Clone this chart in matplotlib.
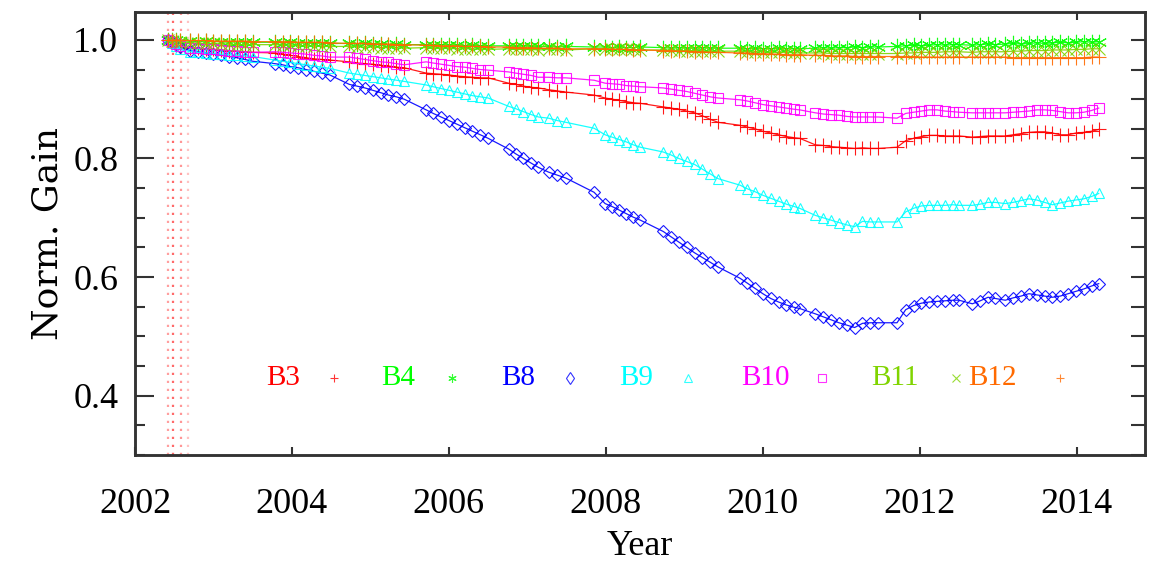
import matplotlib
matplotlib.use("Agg")
import matplotlib.pyplot as plt
from matplotlib.ticker import MultipleLocator

# ---------------- data ----------------
years = [
    2002.42, 2002.47, 2002.52, 2002.57,
    2002.70, 2002.80, 2002.90, 2003.00, 2003.10, 2003.20, 2003.30, 2003.40, 2003.50,
    2003.78, 2003.88, 2003.98, 2004.08, 2004.18, 2004.28, 2004.38, 2004.48,
    2004.73, 2004.83, 2004.93, 2005.03, 2005.13, 2005.23, 2005.33, 2005.43,
    2005.71, 2005.80, 2005.90, 2006.00, 2006.10, 2006.20, 2006.30, 2006.40, 2006.50,
    2006.76, 2006.85, 2006.95, 2007.05, 2007.14,
    2007.27, 2007.38, 2007.49,
    2007.85,
    2007.99, 2008.08, 2008.17, 2008.26, 2008.35, 2008.44,
    2008.73, 2008.83, 2008.93, 2009.03, 2009.13, 2009.23, 2009.33, 2009.43,
    2009.71, 2009.80, 2009.90, 2010.00, 2010.10, 2010.20, 2010.30, 2010.40, 2010.47,
    2010.67, 2010.77, 2010.87, 2010.97, 2011.07, 2011.17, 2011.27, 2011.37, 2011.47,
    2011.71, 2011.82, 2011.92, 2012.02, 2012.12, 2012.22, 2012.32, 2012.42, 2012.50,
    2012.67, 2012.77, 2012.87, 2012.96,
    2013.09, 2013.19, 2013.29, 2013.39, 2013.49, 2013.59, 2013.69, 2013.79, 2013.89,
    2013.99, 2014.09, 2014.19, 2014.28,
]

b3 = [
    1.000, 0.996, 0.992, 0.988,
    0.987, 0.986, 0.985, 0.984, 0.983, 0.982, 0.981, 0.980, 0.979,
    0.978, 0.976, 0.974, 0.972, 0.970, 0.968, 0.967, 0.966,
    0.963, 0.961, 0.960, 0.959, 0.957, 0.956, 0.954, 0.953,
    0.944, 0.943, 0.942, 0.941, 0.939, 0.938, 0.937, 0.936, 0.936,
    0.927, 0.925, 0.922, 0.920, 0.919,
    0.916, 0.914, 0.912,
    0.907,
    0.902, 0.900, 0.898, 0.896, 0.894, 0.893,
    0.887, 0.885, 0.883, 0.880, 0.877, 0.872, 0.866, 0.861,
    0.856, 0.853, 0.850, 0.846, 0.843, 0.840, 0.837, 0.835, 0.834,
    0.823, 0.822, 0.820, 0.819, 0.818, 0.817, 0.818, 0.817, 0.817,
    0.819, 0.830, 0.834, 0.837, 0.839, 0.839, 0.838, 0.838, 0.838,
    0.836, 0.837, 0.838, 0.838,
    0.838, 0.840, 0.842, 0.844, 0.845, 0.845, 0.843, 0.840, 0.840,
    0.843, 0.844, 0.846, 0.849,
]

b4 = [
    1.000, 0.999, 0.999, 0.998,
    0.998, 0.997, 0.998, 0.997, 0.997, 0.996, 0.997, 0.996, 0.996,
    0.996, 0.995, 0.996, 0.995, 0.995, 0.994, 0.995, 0.994,
    0.994, 0.993, 0.994, 0.993, 0.993, 0.992, 0.993, 0.992,
    0.992, 0.991, 0.992, 0.991, 0.991, 0.990, 0.991, 0.990, 0.990,
    0.990, 0.989, 0.990, 0.989, 0.989,
    0.989, 0.988, 0.989,
    0.988,
    0.988, 0.987, 0.988, 0.987, 0.987, 0.988,
    0.987, 0.986, 0.987, 0.986, 0.986, 0.987, 0.986, 0.986,
    0.986, 0.985, 0.986, 0.985, 0.985, 0.986, 0.985, 0.985, 0.985,
    0.986, 0.987, 0.986, 0.987, 0.987, 0.988, 0.987, 0.988, 0.988,
    0.989, 0.990, 0.991, 0.990, 0.991, 0.992, 0.991, 0.992, 0.992,
    0.991, 0.992, 0.993, 0.992,
    0.993, 0.994, 0.993, 0.994, 0.995, 0.994, 0.995, 0.996, 0.995,
    0.996, 0.997, 0.996, 0.997,
]

b8 = [
    1.000, 0.997, 0.992, 0.988,
    0.982, 0.980, 0.978, 0.976, 0.974, 0.972, 0.970, 0.967, 0.964,
    0.960, 0.958, 0.955, 0.953, 0.950, 0.947, 0.944, 0.941,
    0.925, 0.922, 0.919, 0.915, 0.911, 0.907, 0.904, 0.900,
    0.882, 0.876, 0.870, 0.864, 0.858, 0.852, 0.846, 0.840, 0.834,
    0.816, 0.808, 0.800, 0.792, 0.785,
    0.777, 0.772, 0.767,
    0.743,
    0.724, 0.719, 0.713, 0.707, 0.701, 0.696,
    0.677, 0.668, 0.659, 0.650, 0.641, 0.633, 0.625, 0.617,
    0.598, 0.590, 0.581, 0.572, 0.564, 0.558, 0.553, 0.549, 0.547,
    0.538, 0.533, 0.528, 0.523, 0.519, 0.515, 0.522, 0.523, 0.523,
    0.523, 0.545, 0.552, 0.556, 0.558, 0.559, 0.560, 0.561, 0.561,
    0.555, 0.560, 0.566, 0.564,
    0.561, 0.565, 0.568, 0.572, 0.570, 0.568, 0.566, 0.568, 0.572,
    0.576, 0.580, 0.585, 0.589,
]

b9 = [
    1.000, 0.995, 0.990, 0.985,
    0.980, 0.979, 0.978, 0.977, 0.976, 0.975, 0.974, 0.973, 0.972,
    0.966, 0.964, 0.962, 0.960, 0.958, 0.956, 0.954, 0.952,
    0.944, 0.942, 0.940, 0.938, 0.936, 0.934, 0.932, 0.930,
    0.924, 0.921, 0.918, 0.915, 0.912, 0.909, 0.906, 0.904, 0.902,
    0.888, 0.884, 0.879, 0.874, 0.870,
    0.868, 0.864, 0.861,
    0.851,
    0.840, 0.836, 0.832, 0.828, 0.823, 0.819,
    0.811, 0.806, 0.800, 0.795, 0.790, 0.782, 0.774, 0.766,
    0.755, 0.749, 0.744, 0.738, 0.733, 0.728, 0.723, 0.719, 0.716,
    0.704, 0.700, 0.696, 0.692, 0.688, 0.685, 0.694, 0.693, 0.693,
    0.693, 0.710, 0.716, 0.720, 0.721, 0.721, 0.721, 0.722, 0.721,
    0.721, 0.723, 0.726, 0.726,
    0.724, 0.726, 0.729, 0.732, 0.730, 0.726, 0.722, 0.725, 0.728,
    0.730, 0.732, 0.736, 0.741,
]

b10 = [
    1.000, 0.997, 0.993, 0.990,
    0.987, 0.986, 0.985, 0.984, 0.983, 0.982, 0.981, 0.980, 0.979,
    0.980, 0.979, 0.978, 0.977, 0.976, 0.974, 0.973, 0.971,
    0.971, 0.969, 0.967, 0.965, 0.963, 0.962, 0.960, 0.958,
    0.963, 0.961, 0.959, 0.957, 0.955, 0.954, 0.952, 0.950, 0.949,
    0.946, 0.944, 0.942, 0.940, 0.937,
    0.937, 0.936, 0.936,
    0.932,
    0.927, 0.926, 0.925, 0.923, 0.922, 0.921,
    0.919, 0.917, 0.915, 0.913, 0.910, 0.907, 0.904, 0.902,
    0.899, 0.897, 0.894, 0.891, 0.889, 0.887, 0.885, 0.883, 0.882,
    0.877, 0.875, 0.874, 0.873, 0.871, 0.870, 0.870, 0.870, 0.870,
    0.868, 0.876, 0.878, 0.880, 0.882, 0.882, 0.880, 0.879, 0.878,
    0.877, 0.877, 0.877, 0.877,
    0.877, 0.878, 0.879, 0.880, 0.882, 0.882, 0.881, 0.879, 0.877,
    0.877, 0.878, 0.881, 0.885,
]

b11 = [
    1.000, 0.998, 0.997, 0.996,
    0.995, 0.995, 0.994, 0.994, 0.993, 0.993, 0.992, 0.992, 0.992,
    0.992, 0.991, 0.991, 0.990, 0.990, 0.990, 0.989, 0.989,
    0.989, 0.988, 0.988, 0.988, 0.987, 0.987, 0.987, 0.986,
    0.987, 0.986, 0.986, 0.986, 0.985, 0.985, 0.985, 0.984, 0.984,
    0.985, 0.984, 0.984, 0.984, 0.983,
    0.984, 0.984, 0.983,
    0.985,
    0.985, 0.985, 0.984, 0.984, 0.984, 0.983,
    0.983, 0.983, 0.982, 0.982, 0.982, 0.981, 0.981, 0.981,
    0.981, 0.980, 0.980, 0.980, 0.979, 0.979, 0.979, 0.978, 0.978,
    0.978, 0.978, 0.977, 0.977, 0.977, 0.977, 0.977, 0.977, 0.977,
    0.977, 0.978, 0.978, 0.979, 0.979, 0.979, 0.980, 0.980, 0.980,
    0.979, 0.980, 0.980, 0.980,
    0.980, 0.981, 0.981, 0.982, 0.982, 0.982, 0.983, 0.983, 0.983,
    0.984, 0.984, 0.985, 0.985,
]

b12 = [
    1.000, 0.999, 0.999, 0.999,
    0.999, 0.999, 0.999, 0.998, 0.998, 0.998, 0.998, 0.998, 0.997,
    0.997, 0.997, 0.997, 0.996, 0.996, 0.996, 0.996, 0.995,
    0.994, 0.994, 0.994, 0.993, 0.993, 0.993, 0.992, 0.992,
    0.991, 0.991, 0.990, 0.990, 0.990, 0.989, 0.989, 0.989, 0.988,
    0.988, 0.987, 0.987, 0.987, 0.986,
    0.986, 0.986, 0.985,
    0.985,
    0.985, 0.984, 0.984, 0.984, 0.983, 0.983,
    0.982, 0.982, 0.981, 0.981, 0.980, 0.980, 0.979, 0.979,
    0.978, 0.978, 0.977, 0.977, 0.976, 0.976, 0.975, 0.975, 0.975,
    0.974, 0.974, 0.973, 0.973, 0.973, 0.972, 0.972, 0.972, 0.972,
    0.972, 0.972, 0.972, 0.971, 0.971, 0.971, 0.971, 0.971, 0.971,
    0.971, 0.971, 0.971, 0.971,
    0.971, 0.970, 0.970, 0.970, 0.970, 0.970, 0.970, 0.970, 0.970,
    0.970, 0.970, 0.971, 0.971,
]

band_names = ["B3", "B4", "B8", "B9", "B10", "B11", "B12"]
band_values = [b3, b4, b8, b9, b10, b11, b12]
event_years = [2002.42, 2002.48, 2002.58, 2002.68]

# ---------------- style ----------------
colors = ["#ff0000", "#00ff00", "#0000ff", "#00ffff", "#ff00ff", "#80d400", "#ff6a00"]
markers = ["+", (6, 2, 0), "D", "^", "s", "x", "+"]
msizes = [10, 11, 6.2, 7.5, 7.5, 8, 10]
event_alpha = [0.55, 0.85, 0.6, 0.35]

FONT = "Liberation Serif"

fig = plt.figure(figsize=(11.51, 5.62), dpi=100)
ax = fig.add_axes([0.1173, 0.1904, 0.8775, 0.7882])

for yr, al in zip(event_years, event_alpha):
    ax.axvline(yr, color="#ff5050", lw=1.6, ls=(0, (1, 2.6)), alpha=al, zorder=1)

for name, vals, c, m, ms in zip(band_names, band_values, colors, markers, msizes):
    ax.plot(years, vals, color=c, lw=0.9, marker=m, ms=ms, mew=0.8,
            mfc="none", mec=c, alpha=0.9, zorder=3)

ax.set_xlim(2002, 2014.87)
ax.set_ylim(0.3, 1.047)

ax.xaxis.set_major_locator(MultipleLocator(2))
ax.yaxis.set_major_locator(MultipleLocator(0.2))
ax.yaxis.set_minor_locator(MultipleLocator(0.05))
ax.tick_params(axis="both", which="both", direction="in", color="#333333", width=1.5)
ax.tick_params(axis="y", which="major", length=14, pad=12, left=True, right=False)
ax.tick_params(axis="y", which="minor", length=7, left=True, right=False)
ax.tick_params(axis="x", which="major", length=6, pad=24, top=True, bottom=True)
ax.set_yticklabels([f"{v:.1f}" for v in ax.get_yticks()])
for lab in ax.get_xticklabels() + ax.get_yticklabels():
    lab.set_fontfamily(FONT)
    lab.set_fontsize(26)

ax2 = ax.twinx()
ax2.set_ylim(ax.get_ylim())
ax2.yaxis.set_major_locator(MultipleLocator(0.2))
ax2.yaxis.set_minor_locator(MultipleLocator(0.05))
ax2.tick_params(axis="y", which="both", direction="in", length=10, width=1.5,
                color="#333333", labelright=False)

for a in (ax, ax2):
    for sp in a.spines.values():
        sp.set_linewidth(1.8)
        sp.set_color("#333333")

ax.set_xlabel("Year", fontfamily=FONT, fontsize=26, labelpad=6)
ax.set_ylabel("Norm. Gain", fontfamily="DejaVu Serif", fontsize=26, labelpad=6)

# in-plot legend row
leg_text_x = [0.1465, 0.2604, 0.3792, 0.4960, 0.6238, 0.7525, 0.8485]
leg_mark_x = [0.1970, 0.3139, 0.4307, 0.5475, 0.6802, 0.8129, 0.9158]
leg_msizes = [6, 6, 6, 6, 6, 6, 6]
leg_y = 0.174
for name, c, m, tx, mx, ms in zip(band_names, colors, markers, leg_text_x, leg_mark_x, leg_msizes):
    ax.text(tx, leg_y, name, transform=ax.transAxes, color=c, ha="center",
            va="center", fontfamily=FONT, fontsize=21)
    mk = "d" if m == "D" else m
    ax.plot([mx], [leg_y], transform=ax.transAxes, marker=mk, ms=ms, mew=0.8,
            mfc="none", mec=c, ls="none", alpha=0.8)

fig.savefig("out.png", dpi=100)
